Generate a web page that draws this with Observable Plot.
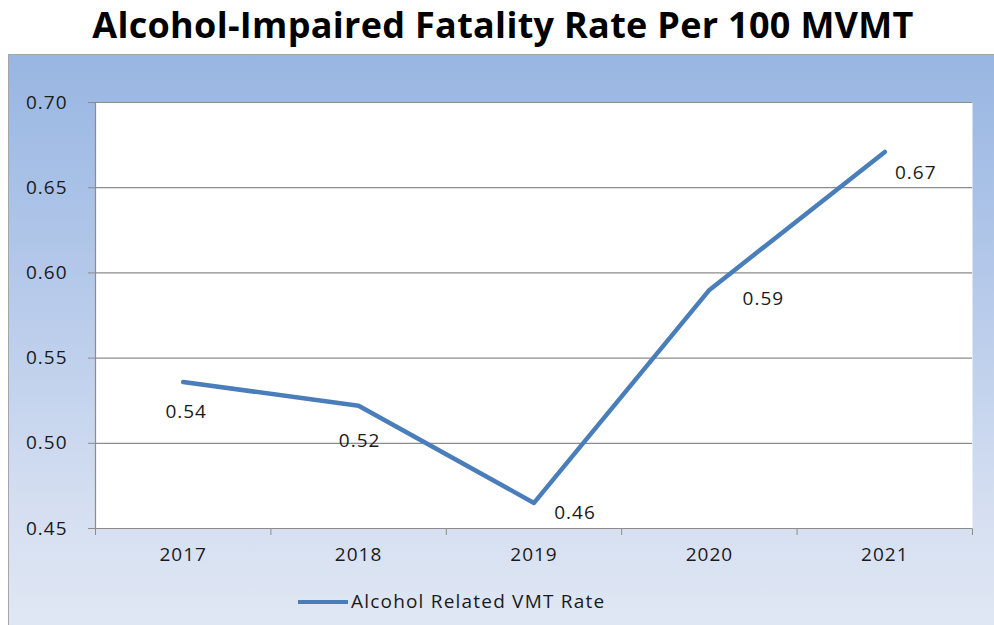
<!DOCTYPE html>
<html>
<head>
<meta charset="utf-8">
<script src="https://cdn.jsdelivr.net/npm/d3@7"></script>
<script src="https://cdn.jsdelivr.net/npm/@observablehq/plot@0.6"></script>
<style>
  html, body { margin: 0; padding: 0; background: #ffffff; }
  body { width: 994px; height: 625px; overflow: hidden; position: relative; font-family: "Open Sans", sans-serif; }
  #title { position: absolute; left: 6px; top: 0; width: 994px; height: 54px; text-align: center;
           font-family: "Open Sans", sans-serif; font-weight: 700; font-size: 36px; line-height: 50px; color: #000; white-space: nowrap; letter-spacing: 0.3px; }
  #box { position: absolute; left: 8px; top: 54px; width: 986px; height: 571px; box-sizing: border-box;
         border-top: 1.5px solid #a6a6a6; border-left: 1.5px solid #a6a6a6;
         background: linear-gradient(to bottom, #98b6e2 0%, #b5c9ea 40%, #d5dff1 80%, #e0e7f4 100%); }
  #chart { position: absolute; left: 0; top: 0; }
  #legend { position: absolute; left: 289px; top: 533px; font-size: 19px; color: #1a1a1a; white-space: nowrap; letter-spacing: 1.2px; }
  #legend .sw { display: inline-block; width: 50px; height: 4px; background: #4a7ebb; vertical-align: middle; margin-right: 3px; position: relative; top: -1px; }
</style>
</head>
<body>
<div id="title">Alcohol-Impaired Fatality Rate Per 100 MVMT</div>
<div id="box">
  <div id="chart"></div>
  <div id="legend"><span class="sw"></span>Alcohol Related VMT Rate</div>
</div>
<script>
const years = [2017, 2018, 2019, 2020, 2021];
const rates = [0.536, 0.522, 0.465, 0.590, 0.671];
const labels = ["0.54", "0.52", "0.46", "0.59", "0.67"];
const yTicks = [0.45, 0.50, 0.55, 0.60, 0.65, 0.70];

// label offsets (px) as placed in the original chart
const labelDx = [3, 1, 41, 54, 31];
const labelDy = [30, 35, 10, 9, 21];

const data = years.map((y, i) => ({year: y, rate: rates[i], label: labels[i]}));
const boundaries = years.map(y => y - 0.5).concat([years[years.length - 1] + 0.5]);

const labelMarks = data.map((d, i) =>
  Plot.text([d], {x: "year", y: "rate", text: "label", dx: labelDx[i], dy: labelDy[i],
    fontSize: 19, fill: "#1a1a1a"})
);

const chart = Plot.plot({
  width: 985,
  height: 569,
  marginLeft: 86,
  marginRight: 22,
  marginTop: 47,
  marginBottom: 96,
  style: {background: "transparent", fontFamily: "'Open Sans', sans-serif", fontSize: "19px", color: "#1a1a1a", overflow: "visible", letterSpacing: "1px"},
  x: {type: "linear", domain: [boundaries[0], boundaries[boundaries.length - 1]], ticks: boundaries,
      tickFormat: () => "", tickSize: 7, label: null, line: false},
  y: {domain: [0.45, 0.70], ticks: yTicks, tickFormat: d3.format(".2f"), tickSize: 7, tickPadding: 21, label: null},
  marks: [
    Plot.frame({fill: "white", stroke: null}),
    Plot.ruleY(yTicks, {stroke: "#8c8c8c", strokeWidth: 1.2}),
    Plot.ruleX([boundaries[0]], {stroke: "#8c8c8c", strokeWidth: 1.2}),
    Plot.line(data, {x: "year", y: "rate", stroke: "#4a7ebb", strokeWidth: 4.5, strokeLinejoin: "round", strokeLinecap: "round"}),
    ...labelMarks,
    Plot.text(years, {x: d => d, frameAnchor: "bottom", dy: 32, text: d => String(d), fontSize: 19, fill: "#1a1a1a"})
  ]
});
chart.querySelectorAll('[aria-label="x-axis tick"] path, [aria-label="y-axis tick"] path').forEach(p => p.setAttribute("stroke", "#8c8c8c"));
document.getElementById("chart").appendChild(chart);
</script>
</body>
</html>
